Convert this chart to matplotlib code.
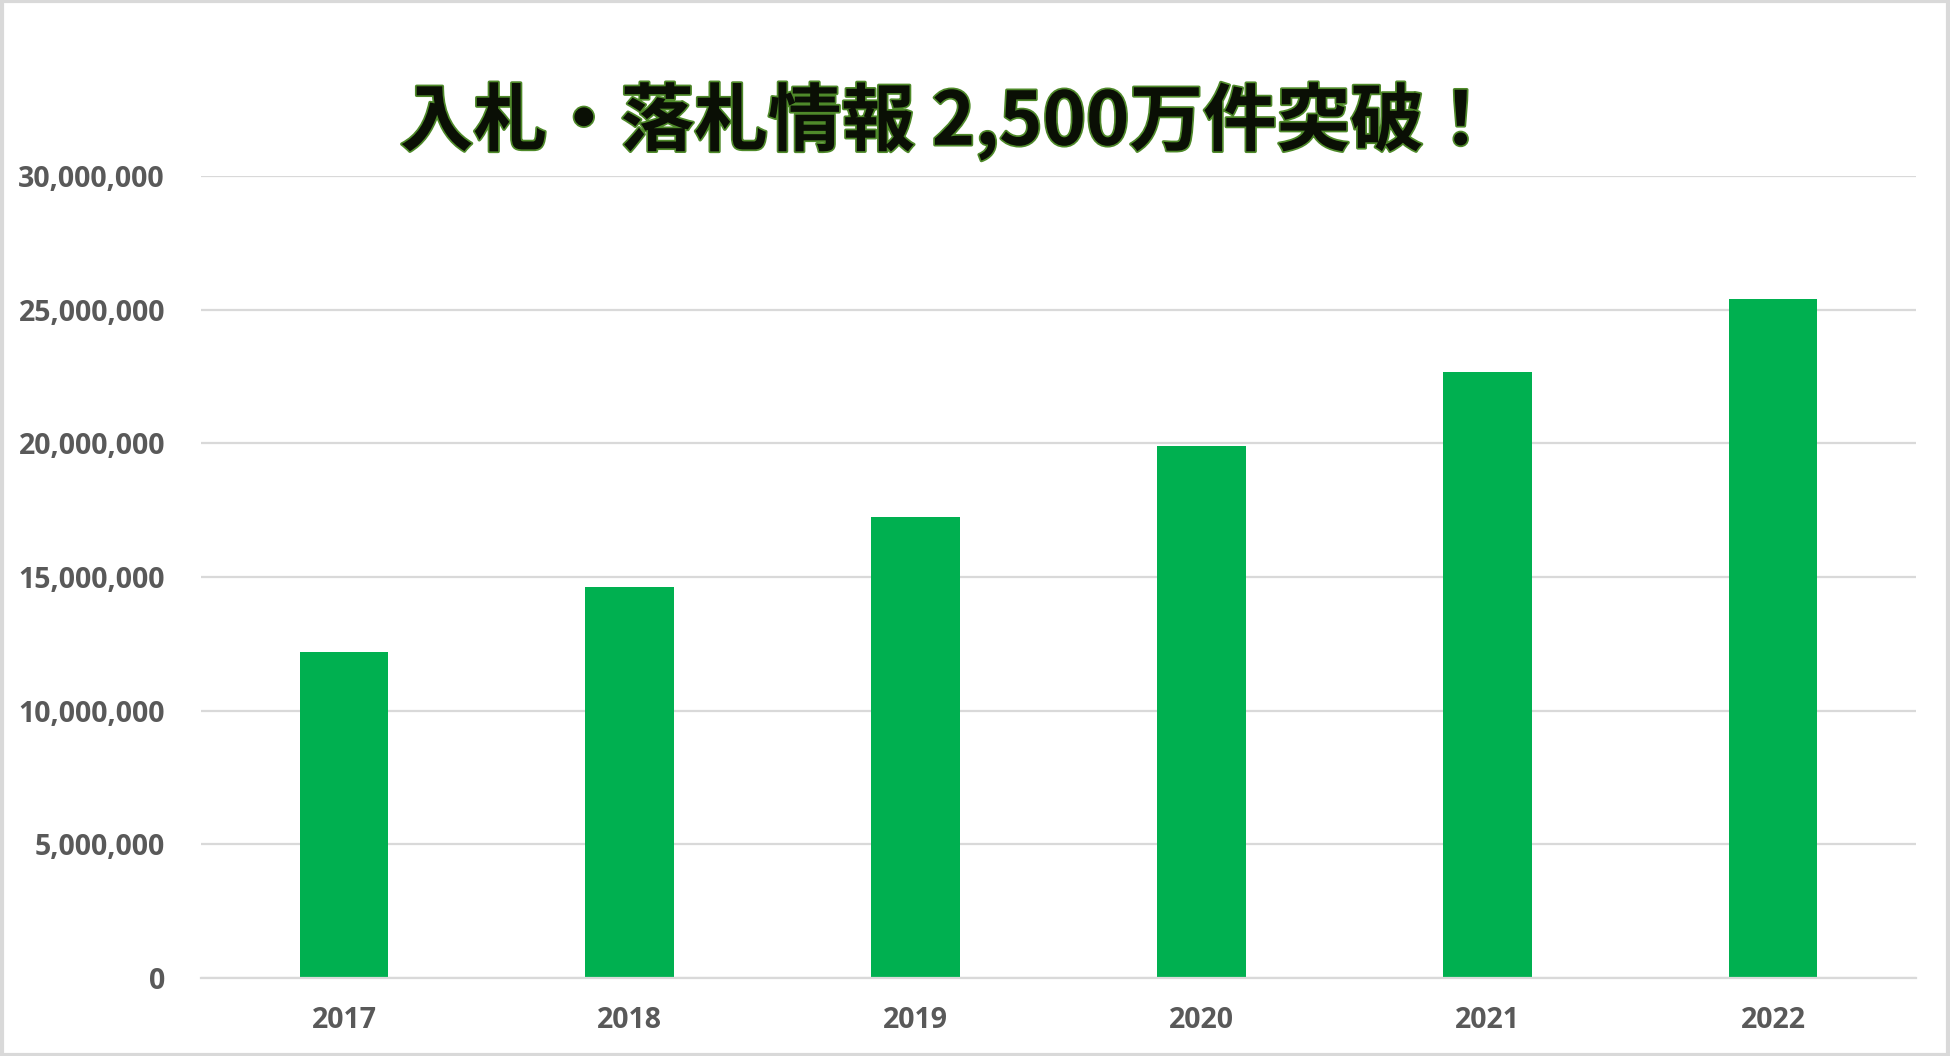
import matplotlib
matplotlib.use("Agg")
import matplotlib.pyplot as plt
import matplotlib.patheffects as pe
from matplotlib.patches import Rectangle
from matplotlib.ticker import FuncFormatter

# ── données ─────────────────────────────────────────
years = ["2017", "2018", "2019", "2020", "2021", "2022"]
counts = [12180000, 14640000, 17250000, 19890000, 22660000, 25390000]
yticks = [0, 5000000, 10000000, 15000000, 20000000, 25000000, 30000000]
title = "入札・落札情報 2,500万件突破！"

# ── figure ──────────────────────────────────────────
fig = plt.figure(figsize=(19.5, 10.56), dpi=100)
ax = fig.add_axes([0.1031, 0.0739, 0.8795, 0.7594])

x = range(len(years))
ax.bar(x, counts, width=0.31, color="#00b050", zorder=3)

ax.set_xlim(-0.5, len(years) - 0.5)
ax.set_ylim(0, 30000000)
ax.set_yticks(yticks)
ax.yaxis.set_major_formatter(FuncFormatter(lambda v, p: f"{int(v):,}"))
ax.set_xticks(list(x))
ax.set_xticklabels(years)

ax.grid(axis="y", color="#d9d9d9", linewidth=1.6, zorder=0)
for s in ["top", "right", "left"]:
    ax.spines[s].set_visible(False)
ax.spines["bottom"].set_color("#d9d9d9")
ax.spines["bottom"].set_linewidth(1.6)
ax.spines["bottom"].set_zorder(4)

ax.tick_params(axis="y", length=0, pad=26)
ax.tick_params(axis="x", length=0, pad=20)
for lab in ax.get_yticklabels() + ax.get_xticklabels():
    lab.set_fontfamily("Open Sans")
    lab.set_fontweight("bold")
    lab.set_fontsize(20.5)
    lab.set_color("#595959")

fig.text(0.4865, 0.885, title, ha="center", va="center", fontsize=53,
         fontweight="bold", family=["Noto Sans CJK JP", "DejaVu Sans"],
         color="#0a0f05",
         path_effects=[pe.withStroke(linewidth=2.5, foreground="#4f8a2a")])

# cadre gris autour du graphique
fig.patches.append(Rectangle((0.001, 0.001), 0.998, 0.998, transform=fig.transFigure,
                             fill=False, edgecolor="#d9d9d9", linewidth=3))

fig.savefig("out.png", dpi=100)
